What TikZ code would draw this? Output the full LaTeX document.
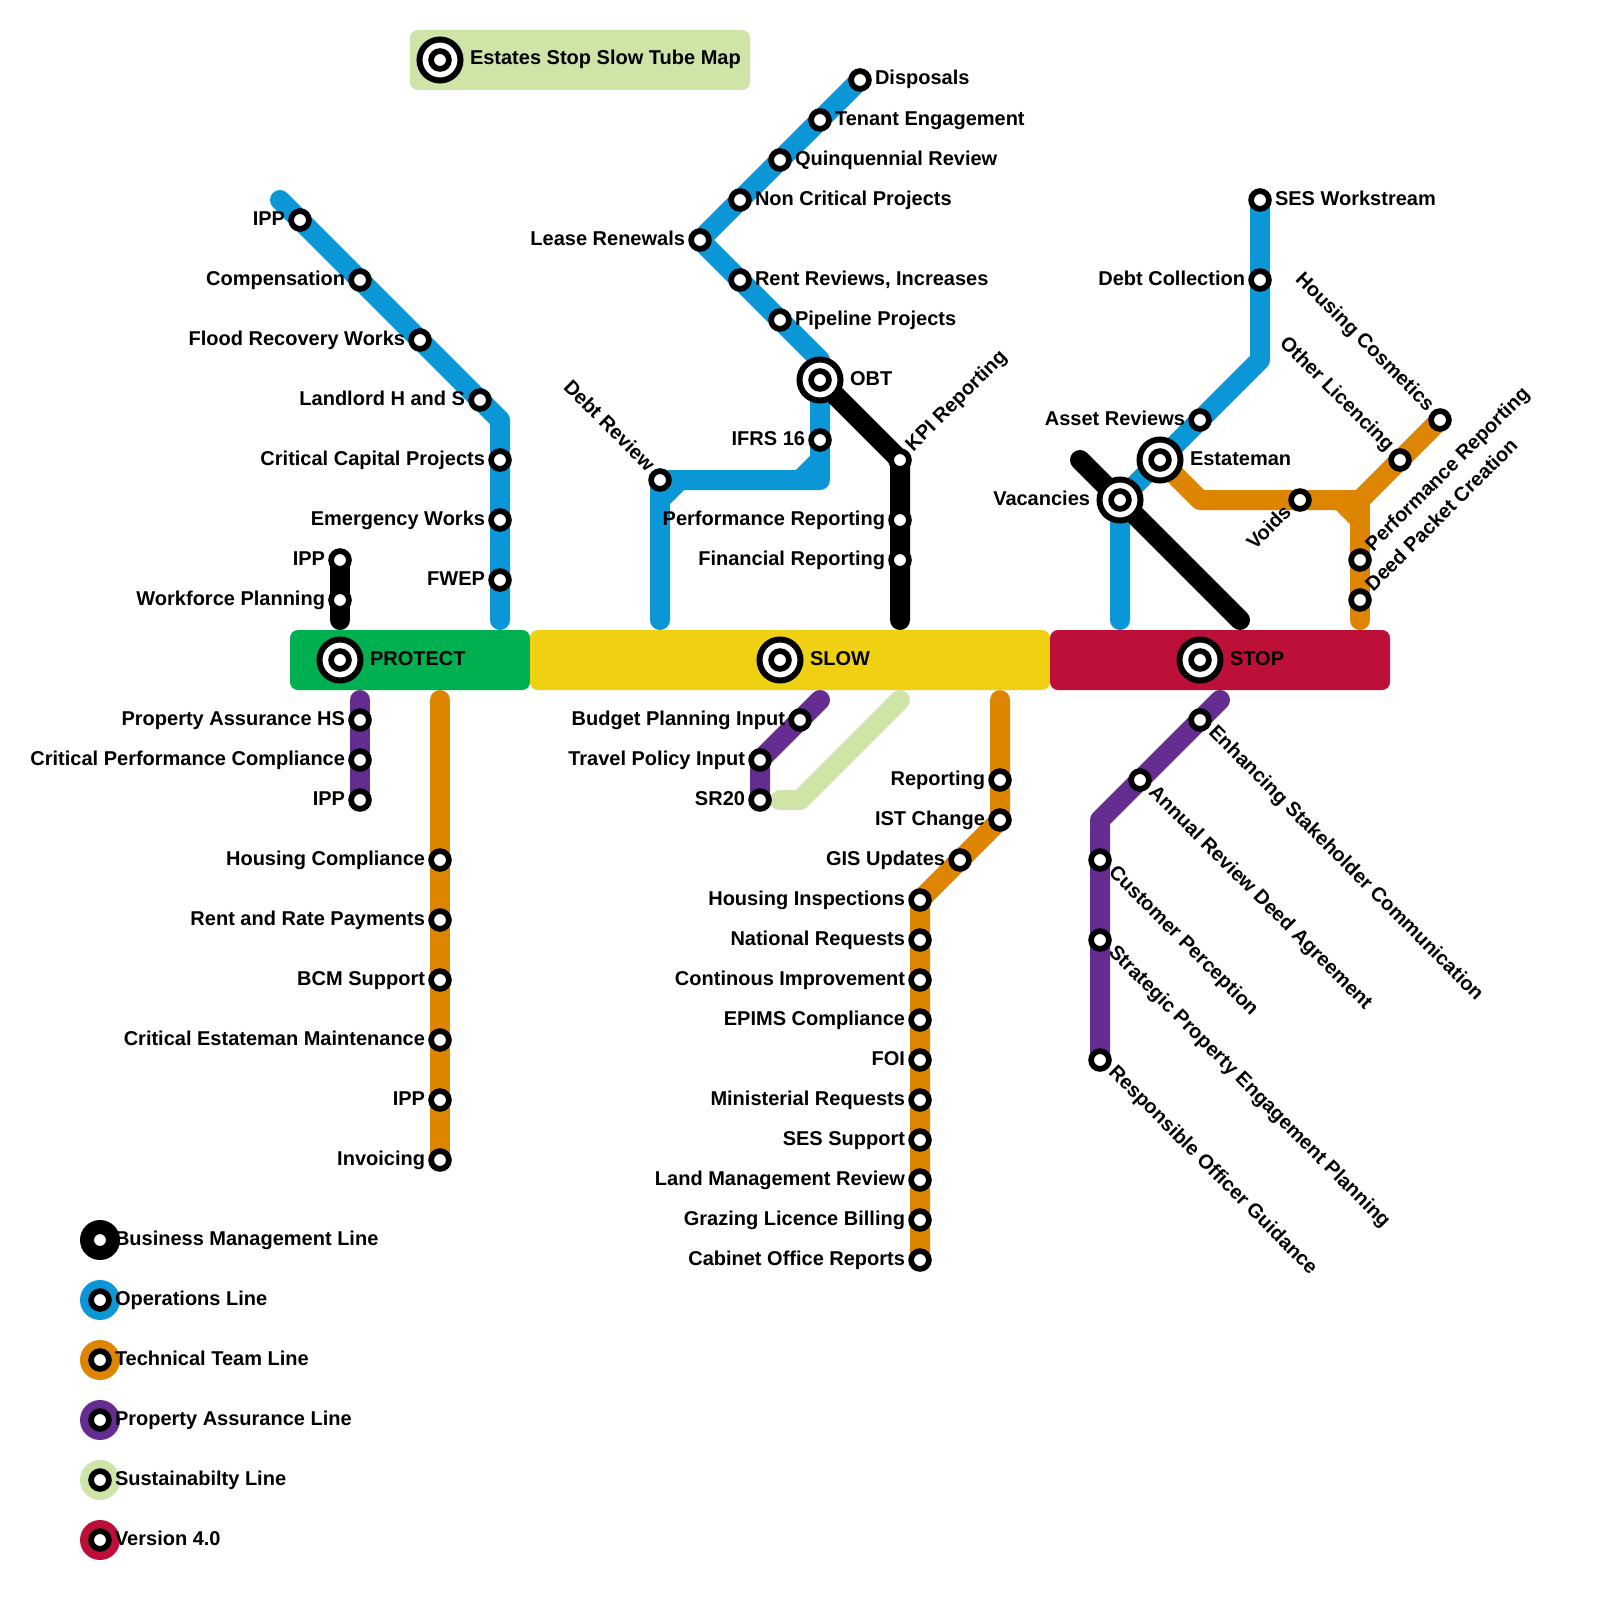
\documentclass[tikz,border=0pt]{standalone}
\usepackage{fontspec}
\setmainfont{Liberation Sans}
\usetikzlibrary{calc}
\definecolor{cblue}{HTML}{0A96D7}
\definecolor{corange}{HTML}{DD8500}
\definecolor{cpurple}{HTML}{662D91}
\definecolor{cpale}{HTML}{CFE4A7}
\definecolor{cred}{HTML}{BC1038}
\definecolor{cyellow}{HTML}{F0D013}
\definecolor{cgreen}{HTML}{00B050}
\pgfdeclarelayer{bg}
\pgfsetlayers{bg,main}
\tikzset{
  stn/.style={circle,draw=black,fill=white,line width=5.7pt,inner sep=0pt,outer sep=0pt,minimum size=17.8pt},
  ring/.style={circle,draw=black,fill=white,line width=6pt,inner sep=0pt,outer sep=0pt,minimum size=41pt},
  lab/.style={font=\fontsize{20}{24}\selectfont\bfseries,text=black,inner sep=0pt,outer sep=0pt},
  band/.style={rounded corners=8pt,inner sep=0pt,outer sep=0pt,minimum height=60pt},
  ln/.style={line width=20pt,line cap=round,line join=round},
  fillr/.style={line width=20pt,line cap=butt},
  dot/.style={circle,inner sep=0pt,outer sep=0pt,minimum size=40pt}
}
% stations with a label on one side
\newcommand{\SL}[3]{\node[stn] (#1) at (#2) {}; \node[lab,anchor=base east] (#1t) at ($(#1.center)+(-15,5)$) {#3};}
\newcommand{\SR}[3]{\node[stn] (#1) at (#2) {}; \node[lab,anchor=base west] (#1t) at ($(#1.center)+(15,5)$) {#3};}
\newcommand{\SUR}[3]{\node[stn] (#1) at (#2) {}; \node[lab,anchor=base west,rotate=45] (#1t) at ($(#1.center)+(13.4,-7.8)$) {#3};}
\newcommand{\SDR}[3]{\node[stn] (#1) at (#2) {}; \node[lab,anchor=base west,rotate=-45] (#1t) at ($(#1.center)+(7.8,13.4)$) {#3};}
\newcommand{\SUL}[3]{\node[stn] (#1) at (#2) {}; \node[lab,anchor=base east,rotate=45] (#1t) at ($(#1.center)+(-7.8,13.4)$) {#3};}
\newcommand{\SDL}[3]{\node[stn] (#1) at (#2) {}; \node[lab,anchor=base east,rotate=-45] (#1t) at ($(#1.center)+(-13.4,-7.8)$) {#3};}
% interchange with a label to the right
\newcommand{\IR}[3]{\node[ring] (#1o) at (#2) {}; \node[stn] (#1) at (#2) {}; \node[lab,anchor=base west] (#1t) at ($(#1.center)+(30,5)$) {#3};}
% legend entry
\newcommand{\LG}[4]{\node[dot,fill=#3] (#1d) at (#2) {}; \node[stn] (#1) at (#2) {}; \node[lab,anchor=base west] (#1t) at ($(#1.center)+(15,5)$) {#4};}
\begin{document}
\begin{tikzpicture}[x=1pt,y=-1pt]
\useasboundingbox (0,0) rectangle (1600,1600);

% bands
\node[band,fill=cpale,minimum width=340pt] (bTitle) at (580,60) {};
\node[band,fill=cgreen,minimum width=240pt] (bProtect) at (410,660) {};
\node[band,fill=cyellow,minimum width=520pt] (bSlow) at (790,660) {};
\node[band,fill=cred,minimum width=340pt] (bStop) at (1220,660) {};

% interchanges
\IR{title}{440,60}{Estates Stop Slow Tube Map}
\IR{protect}{340,660}{PROTECT}
\IR{slow}{780,660}{SLOW}
\IR{stop}{1200,660}{STOP}
\IR{obt}{820,380}{OBT}
\IR{estateman}{1160,460}{Estateman}
\node[ring] (vacO) at (1120,500) {};
\SL{vac}{1120,500}{}
\node[lab,anchor=base east] (vacT) at ($(vac.center)+(-30,5)$) {Vacancies};

% left blue branch
\SL{a1}{300,220}{IPP}
\SL{a2}{360,280}{Compensation}
\SL{a3}{420,340}{Flood Recovery Works}
\SL{a4}{480,400}{Landlord H and S}
\SL{a5}{500,460}{Critical Capital Projects}
\SL{a6}{500,520}{Emergency Works}
\SL{a7}{500,580}{FWEP}
% protect black
\SL{b1}{340,560}{IPP}
\SL{b2}{340,600}{Workforce Planning}
% protect purple
\SL{c1}{360,720}{Property Assurance HS}
\SL{c2}{360,760}{Critical Performance Compliance}
\SL{c3}{360,800}{IPP}
% protect orange
\SL{d1}{440,860}{Housing Compliance}
\SL{d2}{440,920}{Rent and Rate Payments}
\SL{d3}{440,980}{BCM Support}
\SL{d4}{440,1040}{Critical Estateman Maintenance}
\SL{d5}{440,1100}{IPP}
\SL{d6}{440,1160}{Invoicing}
% slow blue
\SR{e1}{860,80}{Disposals}
\SR{e2}{820,120}{Tenant Engagement}
\SR{e3}{780,160}{Quinquennial Review}
\SR{e4}{740,200}{Non Critical Projects}
\SL{e5}{700,240}{Lease Renewals}
\SR{e6}{740,280}{Rent Reviews, Increases}
\SR{e7}{780,320}{Pipeline Projects}
\SL{e8}{820,440}{IFRS 16}
\SDL{e9}{660,480}{Debt Review}
% slow black
\SUR{f1}{900,460}{KPI Reporting}
\SL{f2}{900,520}{Performance Reporting}
\SL{f3}{900,560}{Financial Reporting}
% slow purple
\SL{g1}{800,720}{Budget Planning Input}
\SL{g2}{760,760}{Travel Policy Input}
\SL{g3}{760,800}{SR20}
% slow orange
\SL{h1}{1000,780}{Reporting}
\SL{h2}{1000,820}{IST Change}
\SL{h3}{960,860}{GIS Updates}
\SL{h4}{920,900}{Housing Inspections}
\SL{h5}{920,940}{National Requests}
\SL{h6}{920,980}{Continous Improvement}
\SL{h7}{920,1020}{EPIMS Compliance}
\SL{h8}{920,1060}{FOI}
\SL{h9}{920,1100}{Ministerial Requests}
\SL{h10}{920,1140}{SES Support}
\SL{h11}{920,1180}{Land Management Review}
\SL{h12}{920,1220}{Grazing Licence Billing}
\SL{h13}{920,1260}{Cabinet Office Reports}
% stop blue
\SR{i1}{1260,200}{SES Workstream}
\SL{i2}{1260,280}{Debt Collection}
\SL{i3}{1200,420}{Asset Reviews}
% stop orange
\SUL{j1}{1300,500}{Voids}
\SDL{j2}{1400,460}{Other Licencing}
\SDL{j3}{1440,420}{Housing Cosmetics}
\SUR{j4}{1360,560}{Performance Reporting}
\SUR{j5}{1360,600}{Deed Packet Creation}
% stop purple
\SDR{k1}{1200,720}{Enhancing Stakeholder Communication}
\SDR{k2}{1140,780}{Annual Review Deed Agreement}
\SDR{k3}{1100,860}{Customer Perception}
\SDR{k4}{1100,940}{Strategic Property Engagement Planning}
\SDR{k5}{1100,1060}{Responsible Officer Guidance}

% legend
\LG{l1}{100,1240}{black}{Business Management Line}
\LG{l2}{100,1300}{cblue}{Operations Line}
\LG{l3}{100,1360}{corange}{Technical Team Line}
\LG{l4}{100,1420}{cpurple}{Property Assurance Line}
\LG{l5}{100,1480}{cpale}{Sustainabilty Line}
\LG{l6}{100,1540}{cred}{Version 4.0}

% free ends and bends
\coordinate (a0) at (280,200);
\coordinate (aB) at (500,420);
\coordinate (aE) at (500,620);
\coordinate (bE) at (340,620);
\coordinate (cS) at (360,700);
\coordinate (dS) at (440,700);
\coordinate (eB) at (820,360);
\coordinate (eE) at (660,620);
\coordinate (eC) at (820,480);
\coordinate (eF1) at (820,460);
\coordinate (eF2) at (800,480);
\coordinate (eF3) at (660,500);
\coordinate (eF4) at (680,480);
\coordinate (fE) at (900,620);
\coordinate (gS) at (820,700);
\coordinate (pS) at (900,700);
\coordinate (pB) at (800,800);
\coordinate (pE) at (780,800);
\coordinate (hS) at (1000,700);
\coordinate (iE) at (1120,620);
\coordinate (iB) at (1260,360);
\coordinate (mS) at (1080,460);
\coordinate (mE) at (1240,620);
\coordinate (jB) at (1200,500);
\coordinate (jJ) at (1360,500);
\coordinate (jE) at (1360,620);
\coordinate (jF1) at (1340,500);
\coordinate (jF2) at (1360,520);
\coordinate (kS) at (1220,700);
\coordinate (kB) at (1100,820);

\begin{pgfonlayer}{bg}
% blue
\draw[ln,cblue] (a0) -- (a1.center) -- (a2.center) -- (a3.center) -- (a4.center) -- (aB) -- (a5.center) -- (a6.center) -- (a7.center) -- (aE);
\draw[ln,cblue] (e1.center) -- (e2.center) -- (e3.center) -- (e4.center) -- (e5.center) -- (e6.center) -- (e7.center) -- (eB) -- (obt.center) -- (e8.center) -- (eC) -- (e9.center) -- (eE);
\draw[fillr,cblue] (eF1) -- (eF2);
\draw[fillr,cblue] (eF3) -- (eF4);
\draw[ln,cblue] (iE) -- (vac.center) -- (estateman.center) -- (i3.center) -- (iB) -- (i2.center) -- (i1.center);
% orange
\draw[ln,corange] (dS) -- (d1.center) -- (d2.center) -- (d3.center) -- (d4.center) -- (d5.center) -- (d6.center);
\draw[ln,corange] (hS) -- (h1.center) -- (h2.center) -- (h3.center) -- (h4.center) -- (h5.center) -- (h6.center) -- (h7.center) -- (h8.center) -- (h9.center) -- (h10.center) -- (h11.center) -- (h12.center) -- (h13.center);
\draw[ln,corange] (estateman.center) -- (jB) -- (j1.center) -- (jJ) -- (j2.center) -- (j3.center);
\draw[ln,corange] (jJ) -- (j4.center) -- (j5.center) -- (jE);
\draw[fillr,corange] (jF1) -- (jF2);
% purple
\draw[ln,cpurple] (cS) -- (c1.center) -- (c2.center) -- (c3.center);
\draw[ln,cpurple] (gS) -- (g1.center) -- (g2.center) -- (g3.center);
\draw[ln,cpurple] (kS) -- (k1.center) -- (k2.center) -- (kB) -- (k3.center) -- (k4.center) -- (k5.center);
% pale green
\draw[ln,cpale] (pS) -- (pB) -- (pE);
% black
\draw[ln,black] (b1.center) -- (b2.center) -- (bE);
\draw[ln,black] (obt.center) -- (f1.center) -- (f2.center) -- (f3.center) -- (fE);
\draw[ln,black] (mS) -- (vac.center) -- (mE);
\end{pgfonlayer}
\end{tikzpicture}
\end{document}
